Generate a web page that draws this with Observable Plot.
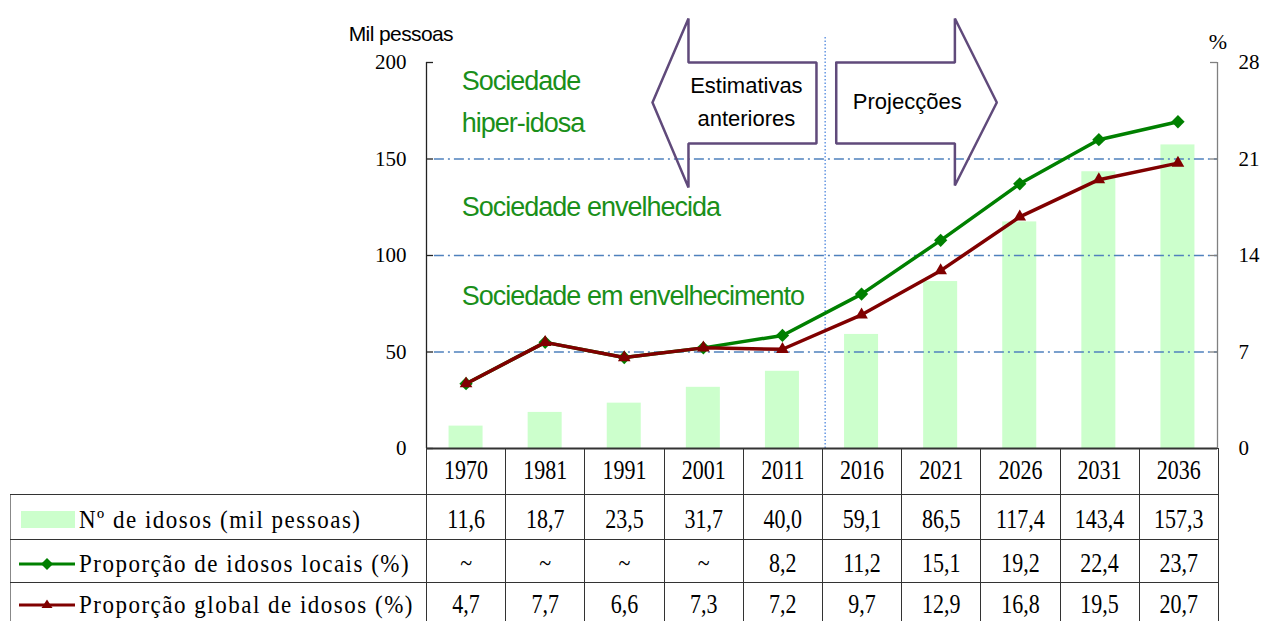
<!DOCTYPE html>
<html><head><meta charset="utf-8">
<script src="https://cdn.jsdelivr.net/npm/d3@7"></script>
<script src="https://cdn.jsdelivr.net/npm/@observablehq/plot@0.6"></script>
<style>
body{margin:0;background:#fff;}
#wrap{position:relative;width:1264px;height:621px;overflow:hidden;background:#fff;}
#wrap > svg{position:absolute;left:0;top:0;}
table{position:absolute;left:10px;top:448px;border-collapse:collapse;table-layout:fixed;font-family:"Liberation Serif","Times New Roman",serif;font-size:22px;color:#000;}
td{border:1px solid #333;text-align:center;padding:0;white-space:nowrap;overflow:hidden;}
td span.v{display:inline-block;transform:scaleY(1.2);}
tr.body td span.v, tr.body td.lab > *{position:relative;top:3px;}
tr.last td span.v, tr.last td.lab > *{position:relative;top:-1px;}
td.lab{text-align:left;padding-left:8px;border-left-color:#888;}
td.lab svg{vertical-align:middle;margin-right:4px;}
td.lab span.t{display:inline-block;font-size:23px;letter-spacing:1.5px;transform:scaleY(1.12);vertical-align:middle;}
</style></head><body><div id="wrap"></div>
<script>
// ---- data ----
const years = ["1970","1981","1991","2001","2011","2016","2021","2026","2031","2036"];
const elderly = [11.6,18.7,23.5,31.7,40.0,59.1,86.5,117.4,143.4,157.3];
const localPct = [null,null,null,null,8.2,11.2,15.1,19.2,22.4,23.7];
const globalPct = [4.7,7.7,6.6,7.3,7.2,9.7,12.9,16.8,19.5,20.7];
const leftTicks = [0,50,100,150,200];
const rightTicks = [0,7,14,21,28];
const thresholds = [50,100,150];
const rowLabels = ["Nº de idosos (mil pessoas)","Proporção de idosos locais (%)","Proporção global de idosos (%)"];

// ---- chart ----
const k = 200/28;               // % -> left-axis units
const idx = d3.range(years.length);
const localPlotted = localPct.map((v,i)=> v ?? globalPct[i]); // chart draws global value where local is "~"
const green = "#008000", maroon = "#800000", annot = "#1a8f1a", purple = "#604a7b";
const narrow = '"Liberation Sans Narrow","Arial Narrow","Liberation Sans",sans-serif';

const leftArrow = [[2.357,179.3],[2.812,222.8],[2.812,200],[4.43,200],[4.43,158],[2.812,158],[2.812,135.2],[2.357,179.3]];
const rightArrow = [[4.68,200],[6.18,200],[6.18,222.8],[6.71,179.3],[6.18,136.3],[6.18,158],[4.68,158],[4.68,200]];

const chart = Plot.plot({
  width:1264, height:621,
  marginLeft:426, marginRight:47, marginTop:62, marginBottom:173,
  x:{domain:[-0.5,9.5], axis:null},
  y:{domain:[0,200], axis:null},
  style:{fontFamily:'"Liberation Serif","Times New Roman",serif', fontSize:"21px", background:"transparent", overflow:"visible"},
  marks:[
    Plot.rectY(idx,{x1:i=>i-0.215, x2:i=>i+0.215, y1:0, y2:i=>elderly[i], fill:"#ccffcc"}),
    Plot.ruleY(thresholds,{x1:-0.4, x2:9.5, stroke:"#4f81bd", strokeDasharray:"10,4,2,4", strokeWidth:1.4}),
    Plot.ruleX([4.54],{y1:0, y2:214, stroke:"#5b8fe0", strokeDasharray:"1.5,2", strokeWidth:1.4}),
    Plot.line(leftArrow,{x:d=>d[0], y:d=>d[1], stroke:purple, strokeWidth:2.5, strokeLinejoin:"miter"}),
    Plot.line(rightArrow,{x:d=>d[0], y:d=>d[1], stroke:purple, strokeWidth:2.5, strokeLinejoin:"miter"}),
    Plot.text(["Estimativas","anteriores"],{x:3.544, y:(d,i)=>[187.6,170.5][i], text:d=>d, fontFamily:narrow, fontSize:22, fill:"#000", className:"arrowlab"}),
    Plot.text(["Projecções"],{x:5.578, y:179.3, text:d=>d, fontFamily:narrow, fontSize:22, fill:"#000", className:"arrowlab"}),
    Plot.text(["Sociedade","hiper-idosa","Sociedade envelhecida","Sociedade em envelhecimento"],
      {x:-0.054, y:(d,i)=>[190.2,168.5,124.9,78.8][i], text:d=>d, textAnchor:"start", fontFamily:narrow, fontSize:27, fill:annot, className:"soc"}),
    // lines
    Plot.line(idx,{x:i=>i, y:i=>localPlotted[i]*k, stroke:green, strokeWidth:3.5}),
    Plot.dot(idx,{x:i=>i, y:i=>localPlotted[i]*k, symbol:"diamond2", r:6, fill:green, stroke:"none"}),
    Plot.line(idx,{x:i=>i, y:i=>globalPct[i]*k, stroke:maroon, strokeWidth:3.5}),
    Plot.dot(idx,{x:i=>i, y:i=>globalPct[i]*k, symbol:"triangle", r:4.7, fill:maroon, stroke:"none"}),
    // axes
    Plot.ruleX([-0.5],{y1:0, y2:200, stroke:"#222", strokeWidth:1.3}),
    Plot.ruleX([9.5],{y1:0, y2:200, stroke:"#808080", strokeWidth:1.3}),
    Plot.ruleY([0],{x1:-0.5, x2:9.5, stroke:"#333", strokeWidth:2}),
    Plot.ruleY(leftTicks,{x1:-0.5, x2:-0.5+7/79.2, stroke:"#222", strokeWidth:1.3}),
    Plot.ruleY(rightTicks.map(v=>v*k),{x1:9.5-7/79.2, x2:9.5, stroke:"#808080", strokeWidth:1.3}),
    Plot.axisY(leftTicks,{anchor:"left", tickSize:0, tickPadding:20, fontSize:21, fill:"#000"}),
    Plot.axisY(rightTicks.map(v=>v*k),{anchor:"right", tickSize:0, tickPadding:21, tickFormat:d=>String(Math.round(d/k)), fontSize:21, fill:"#000"}),
    Plot.text(["Mil pessoas"],{x:-0.824, y:214.5, text:d=>d, fontFamily:'"Liberation Sans",Arial,sans-serif', fontSize:21, fill:"#000", className:"milp"}),
    Plot.text(["%"],{x:9.504, y:210.4, text:d=>d, fontSize:22, fill:"#000"})
  ]
});
d3.select(chart).selectAll(".soc text").style("letter-spacing","-1px");
d3.select(chart).selectAll(".milp text").style("letter-spacing","-0.6px");
const wrap = document.getElementById("wrap");
wrap.appendChild(chart);

// ---- table ----
const fmt = v => v==null ? "~" : v.toFixed(1).replace(".",",");
const colW = 792/10;
const table = document.createElement("table");
const cg = document.createElement("colgroup");
[416, ...years.map(()=>colW)].forEach(w=>{const c=document.createElement("col"); c.style.width=w+"px"; cg.appendChild(c);});
table.appendChild(cg);
table.style.width = (416+792)+"px";
const rowsH = [45,44,42,46];
function icon(kind){
  if(kind===0) return `<svg width="56" height="20"><rect x="2" y="1" width="54" height="17" fill="#ccffcc"/></svg>`;
  const c = kind===1 ? green : maroon;
  const m = kind===1 ? `<path d="M28,4 L34,10 L28,16 L22,10Z" fill="${c}"/>` : `<path d="M28,4.5 L33.5,13 L22.5,13Z" fill="${c}"/>`;
  return `<svg width="56" height="20"><line x1="0" y1="10" x2="56" y2="10" stroke="${c}" stroke-width="3.2"/>${m}</svg>`;
}
const series = [elderly, localPct, globalPct];
for(let r=0;r<4;r++){
  const tr = document.createElement("tr");
  if(r>0 && r<3) tr.className = "body";
  if(r===3) tr.className = "last";
  const first = document.createElement("td");
  first.style.height = rowsH[r]+"px";
  if(r===0){ first.style.borderTop="hidden"; first.style.borderLeft="hidden"; first.style.borderBottom="none"; }
  else { first.className="lab"; first.innerHTML = icon(r-1)+`<span class="t">${rowLabels[r-1]}</span>`; }
  tr.appendChild(first);
  for(let c=0;c<years.length;c++){
    const td = document.createElement("td");
    const s = document.createElement("span");
    s.className = "v";
    s.textContent = r===0 ? years[c] : fmt(series[r-1][c]);
    td.appendChild(s);
    tr.appendChild(td);
  }
  table.appendChild(tr);
}
wrap.appendChild(table);
</script></body></html>
